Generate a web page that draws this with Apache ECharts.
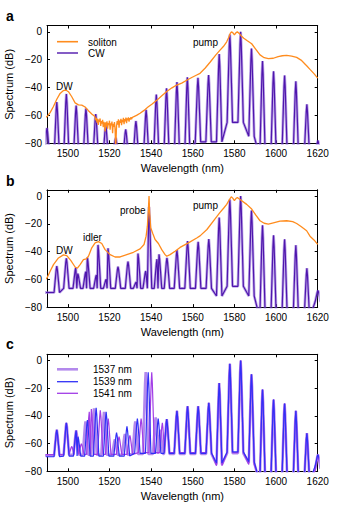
<!DOCTYPE html>
<html>
<head>
<meta charset="utf-8">
<script src="https://cdn.jsdelivr.net/npm/echarts@6.0.0/dist/echarts.min.js"></script>
<style>
html, body { margin: 0; padding: 0; background: #fff; }
#main { width: 347px; height: 514px; }
</style>
</head>
<body>
<div id="main"></div>
<script>
// axis ticks
var xTicks = [1500, 1520, 1540, 1560, 1580, 1600, 1620];
var yTicks = [-80, -60, -40, -20, 0];

// panel a - CW comb lines (nm / dB) and the level under them
var aCombLam = [1490.0, 1494.7, 1499.3, 1504.0, 1508.7, 1513.4, 1518.2, 1523.0, 1527.8, 1532.7, 1537.6, 1542.5, 1547.4, 1552.4, 1557.4, 1562.5, 1567.6, 1572.7, 1577.8, 1583.0, 1588.2, 1593.5, 1598.8, 1604.1, 1609.5, 1614.8, 1620.1];
var aCombDb = [-69, -50.4, -44.6, -53, -55, -59, -67, -76, -70, -64, -56, -45, -40.5, -36, -32.6, -33, -31, -16, -2, 0, -12, -21, -28.4, -31.3, -35.5, -52, -78];
var aFloorAt = [1480, 1560, 1575, 1586, 1590];
var aFloorDb = [-90, -79, -65, -75, -90];

// panel a - soliton spectrum
var aSolLam = [1488, 1490, 1491.5, 1493.1, 1494.7, 1496.3, 1497.9, 1499.0, 1500.3, 1501.9, 1503.5, 1505.1, 1506.7, 1508.3, 1509.9, 1511.5, 1513.0,
  1513.4, 1513.7, 1514.0, 1514.3, 1514.6, 1514.9, 1515.2, 1515.5, 1515.8, 1516.1, 1516.4, 1516.7, 1517.0, 1517.3, 1517.6, 1517.9,
  1518.2, 1518.5, 1518.8, 1519.1, 1519.4, 1519.7, 1520.0, 1520.3, 1520.6, 1520.9, 1521.2, 1521.5, 1521.8, 1522.1, 1522.4, 1522.7,
  1523.0, 1523.2, 1523.4, 1523.7, 1524.0, 1524.3, 1524.6, 1524.9, 1525.2, 1525.5, 1525.8, 1526.1, 1526.4, 1526.7, 1527.0, 1527.3,
  1527.6, 1527.9, 1528.2, 1528.5, 1528.8, 1529.1, 1529.4, 1529.7, 1530.0, 1530.3, 1530.6, 1530.9,
  1531.5, 1533.0, 1534.7, 1536.6, 1538.5, 1540.5, 1542.7, 1545.0, 1547.5, 1550.0, 1552.3, 1554.7, 1557.1, 1559.5, 1561.9, 1563.5,
  1566.0, 1568.5, 1571.0, 1573.1, 1574.7, 1576.3, 1577.3, 1578.0, 1578.6, 1579.3, 1580.0, 1580.7, 1581.4, 1582.3, 1583.2, 1584.5,
  1586.2, 1588.3, 1590.3, 1592.3, 1594.3, 1596.3, 1598.7, 1601.0, 1603.0, 1605.1, 1607.5, 1609.9, 1612.0, 1614.7, 1616.3, 1618.2, 1620.0];
var aSolDb = [-62, -60.8, -58.0, -53.6, -48.4, -44.2, -42.2, -41.8, -43.0, -46.6, -51.0, -52.4, -52.6, -54.0, -56.6, -59.0, -60.8,
  -63.5, -61.8, -65.2, -62.4, -66.8, -63.0, -64.6, -62.2, -67.5, -64.0, -65.8, -63.2, -68.4, -64.6, -66.0, -71.5,
  -65.0, -67.8, -64.2, -69.6, -65.4, -66.9, -63.8, -70.2, -65.6, -67.0, -64.4, -72.8, -66.0, -68.2, -64.8, -70.0,
  -84, -84, -67.4, -64.0, -66.6, -62.8, -68.8, -63.6, -65.4, -62.4, -67.0, -63.2, -64.8, -61.8, -66.2, -62.6,
  -64.2, -61.6, -65.6, -62.0, -63.6, -61.4, -64.4, -62.0, -63.0, -61.2, -62.8, -61.6,
  -61.0, -60.0, -58.4, -56.4, -54.0, -51.8, -49.2, -46.0, -42.8, -40.2, -38.2, -36.8, -34.8, -32.8, -31.0, -29.8,
  -26.0, -21.5, -16.8, -13.2, -10.6, -7.2, -4.0, -1.2, 0, -0.8, -2.2, -0.8, 0, -1.2, -2.8, -4.6,
  -6.4, -8.6, -12.6, -16.6, -18.6, -19.3, -19.0, -17.8, -17.2, -17.0, -17.4, -18.4, -20.3, -24.4, -27.0, -30.0, -33.2];

// panel b - comb with probe (nm / dB) and the level under them
var bCombLam = [1494.7, 1499.3, 1503.8, 1504.8, 1508.6, 1509.4, 1513.7, 1514.5, 1518.4, 1519.3, 1524.1, 1528.9, 1532.8, 1533.7, 1537.4, 1539.0, 1542.8, 1543.8, 1547.6, 1552.4, 1557.5, 1562.6, 1567.7, 1572.7, 1577.8, 1583.0, 1588.2, 1593.5, 1598.8, 1604.1, 1609.5, 1614.8, 1620.1];
var bCombDb = [-50.4, -44.8, -51.6, -55.9, -54.5, -44.3, -56.9, -35.2, -60, -37.6, -50.9, -47.2, -62, -41.4, -54, -8, -45.5, -42, -44.5, -39, -32.5, -33, -31, -15.5, -2.5, 0, -10.5, -21, -28.3, -31.2, -35.4, -52, -68];
var bFloorAt = [1480, 1497, 1569, 1575, 1586, 1590, 1617];
var bFloorDb = [-69.5, -66.5, -72, -65, -72, -88, -76];

// panel b - soliton spectrum with probe
var bSolLam = [1488, 1490, 1491.5, 1493.1, 1495.5, 1497.9, 1499.5, 1501.4, 1503.5, 1504.6, 1505.9, 1507.5, 1508.8, 1509.9, 1511.5, 1513.1,
  1514.7, 1516.3, 1517.9, 1520.3, 1522.7, 1525.1, 1528.3, 1531.5, 1534.7, 1536.6, 1537.6, 1538.2, 1538.7, 1539.0, 1539.3, 1539.8,
  1540.8, 1541.9, 1543.5, 1545.1, 1546.7, 1547.5, 1549.1, 1551.5, 1553.9, 1557.9, 1561.9, 1563.5, 1566.8, 1570.7, 1573.1, 1574.8,
  1576.3, 1577.6, 1578.5, 1579.2, 1580.0, 1580.7, 1581.4, 1582.2, 1583.2, 1585.9, 1588.3, 1590.3, 1592.3, 1594.3, 1596.3, 1598.7,
  1601.9, 1605.1, 1608.0, 1609.9, 1612.0, 1614.7, 1616.3, 1618.2, 1620.0];
var bSolDb = [-62, -59, -54.2, -49.4, -44.6, -42.4, -42.9, -46.3, -51.1, -52.0, -49.4, -45.8, -45.3, -43.4, -37.3, -33.7,
  -32.8, -34.2, -38.6, -42.2, -43.9, -43.9, -42.2, -40.5, -38.1, -34.9, -28.9, -21.7, -9.6, 0, -12, -22.9,
  -27, -31.3, -34.2, -38.6, -42.2, -43.4, -42.2, -39.8, -37, -33.7, -30.2, -28.7, -24.1, -16.4, -11.8, -8.8,
  -6.0, -2.5, -0.5, -1.5, -3.3, -1.8, -1.0, -2.0, -3.0, -6.0, -9.4, -13.8, -17.8, -19.6, -20.2, -19.3,
  -18.1, -17.8, -18.4, -19.8, -22.0, -25.0, -28.9, -31.6, -34.8];

// panel c - lines common to the three probe settings
var cMainLam = [1494.7, 1499.3, 1504.0, 1547.5, 1552.4, 1557.5, 1562.6, 1567.7, 1572.7, 1577.8, 1583.0, 1588.2, 1593.5, 1598.8, 1604.1, 1609.5, 1614.8, 1620.1];
var cMainDb = [-50, -45, -50.6, -42.3, -36.3, -33, -33, -30.6, -16.2, -2.4, 0, -10, -21, -28.2, -31, -36.3, -52.5, -68];
var cFloorAt = [1480, 1497, 1530, 1569, 1575, 1586, 1590, 1617];
// probe 1537 nm
var c37Lam = [1508.5, 1512.6, 1517.4, 1522.6, 1527.4, 1532.4, 1537.4, 1542.2, 1544.4];
var c37Db = [-44, -34.5, -37, -57, -53, -44, -8.4, -41, -50];
var c37FloorDb = [-68.5, -68, -67.5, -75, -67, -74, -88, -78];
// probe 1539 nm
var c39Lam = [1504.9, 1509.4, 1513.6, 1518.4, 1523.4, 1528.4, 1533.4, 1538.6, 1543.4];
var c39Db = [-55, -43, -34.2, -37, -52, -47.5, -42, -8.4, -42];
var c39FloorDb = [-69.5, -69, -67, -74, -66, -73, -88, -76];
// probe 1541 nm
var c41Lam = [1501.9, 1506.5, 1510.3, 1511.3, 1515.6, 1519.4, 1524.6, 1529.8, 1535.2, 1540.3, 1545.4];
var c41Db = [-62, -60, -37, -35, -36, -42, -55, -54, -42, -8.4, -45];
var c41FloorDb = [-68, -67.8, -66.5, -76, -66.5, -75, -87, -79];

var FONT = '"Liberation Sans", Arial, Helvetica, sans-serif';
var ORANGE = '#ff8c1e';
var PURPLE = '#4f16ad';
var HALO = 'rgba(140,100,215,0.55)';
var HALF = 1.3; // drawn half width of one comb line, nm

function floorOf(at, db, x) {
    var v = db[0];
    for (var i = 0; i < at.length; i++) {
        if (x >= at[i]) v = db[i];
    }
    return v;
}

// comb lines -> polyline of narrow peaks standing on the floor level
function combPoints(lam, db, at, fdb) {
    var idx = lam.map(function (v, i) { return i; });
    idx.sort(function (p, q) { return lam[p] - lam[q]; });
    var L = idx.map(function (i) { return lam[i]; });
    var D = idx.map(function (i) { return db[i]; });
    var pts = [[1486, floorOf(at, fdb, 1486)]];
    for (var i = 0; i < L.length; i++) {
        var c = L[i], h = D[i], fl = floorOf(at, fdb, c);
        var lw = i > 0 ? Math.min(HALF, (c - L[i - 1]) / 2) : HALF;
        var rw = i < L.length - 1 ? Math.min(HALF, (L[i + 1] - c) / 2) : HALF;
        var d = h - fl;
        pts.push([c - lw, fl], [c - 0.6 * lw, fl + 0.45 * d], [c - 0.22 * lw, fl + 0.86 * d], [c, h],
            [c + 0.22 * rw, fl + 0.86 * d], [c + 0.6 * rw, fl + 0.45 * d], [c + rw, fl]);
    }
    pts.push([1624, floorOf(at, fdb, 1624)]);
    return pts;
}

function zip(lam, db) {
    return lam.map(function (v, i) { return [v, db[i]]; });
}

var grids = [
    {left: 47, right: 29.3, top: 25.5, height: 117.8},
    {left: 47, right: 29.3, top: 189.8, height: 117.3},
    {left: 47, right: 29.3, top: 354.3, height: 117.0}
];
grids.forEach(function (g) { g.outerBoundsMode = 'none'; g.containLabel = false; });

var xAxes = [], yAxes = [];
for (var g = 0; g < 3; g++) {
    [false, true].forEach(function (other) {
        xAxes.push({
            type: 'value', gridIndex: g, position: other ? 'top' : 'bottom',
            min: 1490, max: 1620,
            axisLine: {show: true, onZero: false, lineStyle: {color: '#000', width: 1}},
            axisTick: {show: true, inside: true, length: 3, customValues: xTicks, lineStyle: {color: '#000'}},
            axisLabel: {
                show: !other, customValues: xTicks, margin: 5, fontSize: 10, color: '#000', fontFamily: FONT,
                formatter: function (v) { return String(v); }
            },
            splitLine: {show: false},
            name: other ? '' : 'Wavelength (nm)', nameLocation: 'middle', nameGap: 19.5,
            nameTextStyle: {fontSize: 11, color: '#000', fontFamily: FONT}
        });
        yAxes.push({
            type: 'value', gridIndex: g, position: other ? 'right' : 'left',
            min: -80, max: 4.5,
            axisLine: {show: true, onZero: false, lineStyle: {color: '#000', width: 1}},
            axisTick: {show: true, inside: true, length: 3, customValues: yTicks, lineStyle: {color: '#000'}},
            axisLabel: {
                show: !other, customValues: yTicks, margin: 5, fontSize: 10, color: '#000', fontFamily: FONT,
                formatter: function (v) { return String(v).replace('-', '\u2212'); }
            },
            splitLine: {show: false},
            name: other ? '' : 'Spectrum (dB)', nameLocation: 'middle', nameGap: 29,
            nameTextStyle: {fontSize: 11, color: '#000', fontFamily: FONT}
        });
    });
}

function line(name, g, data, color, width) {
    return {
        type: 'line', name: name, xAxisIndex: g * 2, yAxisIndex: g * 2, data: data,
        symbol: 'none', showSymbol: false, clip: true, animation: false, silent: true,
        lineStyle: {color: color, width: width}, itemStyle: {color: color}
    };
}

var c37Color = '#b389ec', c39Color = '#3030f6', c41Color = '#a23de6';
var aComb = combPoints(aCombLam, aCombDb, aFloorAt, aFloorDb);
var bComb = combPoints(bCombLam, bCombDb, bFloorAt, bFloorDb);

var series = [
    line('CW halo', 0, aComb, HALO, 2.8),
    line('CW', 0, aComb, PURPLE, 1.2),
    line('soliton', 0, zip(aSolLam, aSolDb), ORANGE, 1.3),
    line('CW b halo', 1, bComb, HALO, 2.8),
    line('CW b', 1, bComb, PURPLE, 1.2),
    line('soliton b', 1, zip(bSolLam, bSolDb), ORANGE, 1.3),
    line('1537 nm', 2, combPoints(cMainLam.concat(c37Lam), cMainDb.concat(c37Db), cFloorAt, c37FloorDb), c37Color, 2.6),
    line('1541 nm', 2, combPoints(cMainLam.concat(c41Lam), cMainDb.concat(c41Db), cFloorAt, c41FloorDb), c41Color, 1.2),
    line('1539 nm', 2, combPoints(cMainLam.concat(c39Lam), cMainDb.concat(c39Db), cFloorAt, c39FloorDb), c39Color, 1.2)
];

function txt(x, y, s, size, bold) {
    return {
        type: 'text', x: x, y: y, silent: true,
        style: {text: s, fill: '#000', fontSize: size, fontFamily: FONT, fontWeight: bold ? 'bold' : 'normal', verticalAlign: 'middle', align: 'left'}
    };
}
function key(x1, x2, y, color, w) {
    return {type: 'line', silent: true, shape: {x1: x1, y1: y, x2: x2, y2: y}, style: {stroke: color, lineWidth: w}};
}

var graphic = [
    txt(6, 16, 'a', 14, true),
    key(57, 78, 41.7, ORANGE, 1.6), txt(88, 42, 'soliton', 10),
    key(57, 78, 53, PURPLE, 1.4), txt(88, 53.5, 'CW', 10),
    txt(193, 42.2, 'pump', 10),
    txt(56, 86, 'DW', 10),
    txt(6, 181, 'b', 14, true),
    txt(56, 250, 'DW', 10),
    txt(83, 237.5, 'idler', 10),
    txt(120, 210, 'probe', 10),
    txt(193, 205.5, 'pump', 10),
    txt(6, 344, 'c', 14, true),
    key(57, 78, 369.3, c37Color, 2.6), txt(93, 369, '1537 nm', 10),
    key(57, 78, 381.7, c39Color, 1.3), txt(93, 381.7, '1539 nm', 10),
    key(57, 78, 393.3, c41Color, 1.3), txt(93, 393.5, '1541 nm', 10)
];

var chart = echarts.init(document.getElementById('main'), null, {renderer: 'svg'});
chart.setOption({
    animation: false,
    backgroundColor: '#fff',
    grid: grids,
    xAxis: xAxes,
    yAxis: yAxes,
    series: series,
    graphic: graphic
});
</script>
</body>
</html>
